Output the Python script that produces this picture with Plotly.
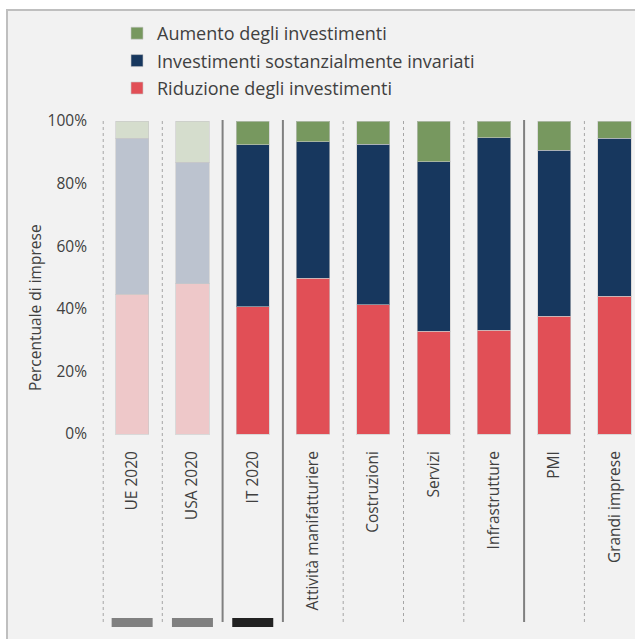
import plotly.graph_objects as go

# Categories (benchmarks first, then Italian breakdowns)
categories = ["UE 2020", "USA 2020", "IT 2020", "Attività manifatturiere",
              "Costruzioni", "Servizi", "Infrastrutture", "PMI", "Grandi imprese"]

# Shares of firms (%) by investment expectation
riduzione = [44.6, 48.0, 40.7, 49.7, 41.3, 32.8, 33.1, 37.6, 44.0]
invariati = [49.9, 38.8, 51.7, 43.6, 51.3, 54.2, 61.6, 53.0, 50.5]
aumento = [5.5, 13.2, 7.6, 6.7, 7.4, 13.0, 5.3, 9.4, 5.5]

series_names = ["Riduzione degli investimenti",
                "Investimenti sostanzialmente invariati",
                "Aumento degli investimenti"]
strong_colors = ["#e14f56", "#17375e", "#77985f"]
light_colors = ["#eec8c9", "#bcc3cf", "#d5ddcd"]

y_ticks = [0, 20, 40, 60, 80, 100]
y_tick_text = ["0%", "20%", "40%", "60%", "80%", "100%"]

# Which separators are solid (group breaks) vs dotted
separator_styles = ["dot", "dot", "solid", "solid", "dot", "dot", "dot", "solid", "dot"]
# Colour of the marker strip under the first three columns
strip_colors = ["#808080", "#808080", "#222222"]

FONT = "Open Sans, Noto Sans, sans-serif"
TEXT = "#404040"

fig = go.Figure()

n_bench = 2  # UE and USA shown in muted colours
values = [riduzione, invariati, aumento]
for k in range(3):
    # muted benchmark columns
    fig.add_trace(go.Bar(
        x=categories[:n_bench], y=values[k][:n_bench],
        marker=dict(color=light_colors[k], line=dict(color="rgba(200,200,200,0.6)", width=1)),
        width=0.55, showlegend=False, hoverinfo="skip", legendgroup=f"g{k}",
    ))
    # Italian columns; legend lists the top segment first
    fig.add_trace(go.Bar(
        x=categories[n_bench:], y=values[k][n_bench:],
        name=series_names[k],
        marker=dict(color=strong_colors[k], line=dict(color="rgba(200,200,200,0.6)", width=1)),
        width=0.55, legendgroup=f"g{k}", legendrank=1000 - k,
    ))

# pixel geometry helpers
W, H = 635, 639
L, R, T, B = 102, 0, 120, 11
plot_w = W - L - R
plot_h = H - T - B
y0_px, y100_px = 434, 121
ppu = (y0_px - y100_px) / 100.0
y_top = 100 + (y100_px - T) / ppu
y_bot = -((H - B) - y0_px) / ppu
cat_px = 60.3
x_end = -0.5 + plot_w / cat_px

shapes = []
# chart frame
shapes.append(dict(type="rect", xref="paper", yref="paper",
                   x0=(7 - L) / plot_w, x1=1.2,
                   y0=-0.2, y1=((H - B) - 10) / plot_h,
                   fillcolor="#f2f2f2", line=dict(color="#bfbfbf", width=2), layer="below"))
# column separators
sep_bottom = -((622) - y0_px) / ppu
for i, st in enumerate(separator_styles):
    solid = st == "solid"
    shapes.append(dict(type="line", xref="x", yref="y",
                       x0=i - 0.5 + (0.02 if i == 0 else 0), x1=i - 0.5 + (0.02 if i == 0 else 0),
                       y0=sep_bottom, y1=y_top,
                       line=dict(color="#808080" if solid else "#a6a6a6",
                                 width=2 if solid else 1,
                                 dash="solid" if solid else "dot"),
                       layer="above"))
# marker strips
for i, c in enumerate(strip_colors):
    shapes.append(dict(type="rect", xref="x", yref="y",
                       x0=i - 0.34, x1=i + 0.34,
                       y0=-(627 - y0_px) / ppu, y1=-(618 - y0_px) / ppu,
                       fillcolor=c, line=dict(width=0), layer="above"))

fig.update_layout(
    width=W, height=H,
    margin=dict(l=L, r=R, t=T, b=B, pad=0),
    paper_bgcolor="white", plot_bgcolor="rgba(0,0,0,0)",
    barmode="stack",
    font=dict(family=FONT, color=TEXT, size=15),
    shapes=shapes,
    showlegend=True,
    legend=dict(
        x=(117 - L) / plot_w, xanchor="left",
        y=((H - B) - 15) / plot_h, yanchor="top",
        traceorder="grouped", tracegroupgap=1,
        font=dict(size=18, color=TEXT, family=FONT),
        bgcolor="rgba(0,0,0,0)", itemwidth=30,
    ),
    xaxis=dict(
        range=[-0.5, x_end], anchor="free",
        position=((H - B) - y0_px) / plot_h,
        tickangle=-90, ticks="", showline=False, showgrid=False, zeroline=False,
        tickfont=dict(size=15.5, color=TEXT), ticklabelstandoff=13,
        fixedrange=True,
    ),
    yaxis=dict(
        range=[y_bot, y_top], tickvals=y_ticks, ticktext=y_tick_text,
        ticks="", showgrid=False, zeroline=False, showline=False,
        tickfont=dict(size=15.5, color=TEXT), ticklabelstandoff=14,
    ),
    annotations=[dict(
        text="Percentuale di imprese", xref="paper", yref="paper",
        x=(35 - L) / plot_w, y=((H - B) - 308) / plot_h,
        textangle=-90, showarrow=False, font=dict(size=15.5, color=TEXT),
        xanchor="center", yanchor="middle",
    )],
)

fig.write_html("out.html")
